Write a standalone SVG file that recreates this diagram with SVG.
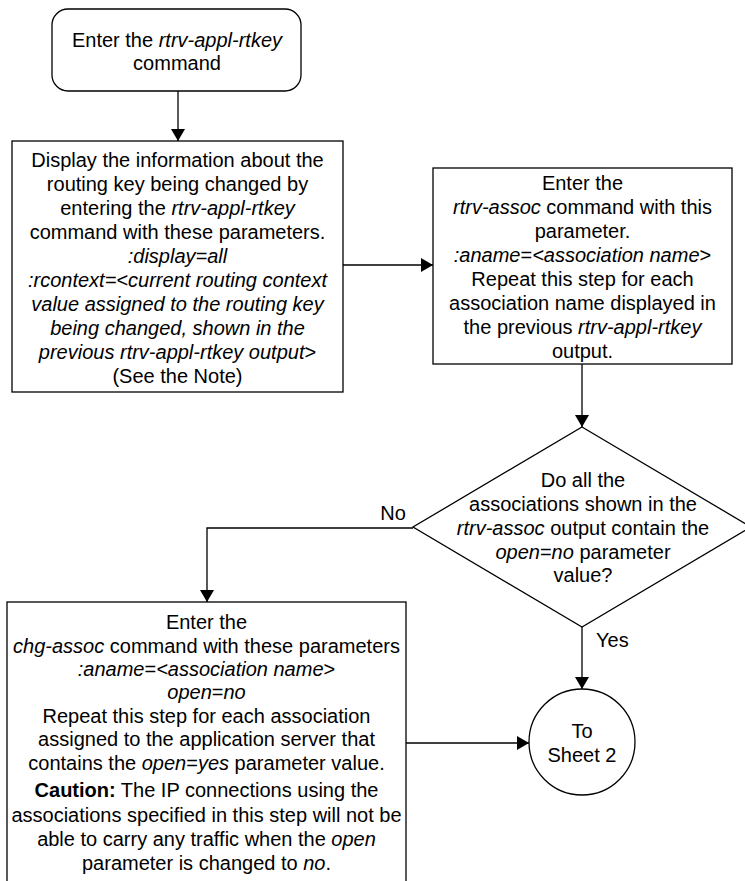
<svg xmlns="http://www.w3.org/2000/svg" width="745" height="881" viewBox="0 0 745 881">
<defs>
<marker id="arr" viewBox="0 0 12 14" refX="12" refY="7" markerWidth="12" markerHeight="14" markerUnits="userSpaceOnUse" orient="auto">
<path d="M0,0 L12,7 L0,14 z" fill="#000"/>
</marker>
<style>
.shape{fill:#fff;stroke:#000;stroke-width:1.3}
.line{fill:none;stroke:#000;stroke-width:1.3;marker-end:url(#arr)}
text{font-family:"Liberation Sans",Arial,sans-serif;font-size:20px;fill:#000;text-anchor:middle}
.i{font-style:italic}
.b{font-weight:bold}
.lbl{font-size:20px}
</style>
</defs>
<rect width="745" height="881" fill="#fff"/>
<g id="connectors">
<path class="line" d="M178,91 L178,141"/>
<path class="line" d="M343,265 L433,265"/>
<path class="line" d="M582,364 L582,427"/>
<path class="line" d="M413,528 L207,528 L207,602"/>
<path class="line" d="M582,627 L582,689"/>
<path class="line" d="M406,743 L529,743"/>
<text class="lbl" x="393" y="520">No</text>
<text class="lbl" x="596" y="647" style="text-anchor:start">Yes</text>
</g>
<g id="start">
<rect class="shape" x="52" y="9" width="249" height="82" rx="16"/>
<text x="177" y="47">Enter the <tspan class="i">rtrv-appl-rtkey</tspan></text>
<text x="177" y="70">command</text>
</g>
<g id="display">
<rect class="shape" x="12" y="141" width="331" height="251"/>
<text x="177.5" y="167">Display the information about the</text>
<text x="177.5" y="191">routing key being changed by</text>
<text x="177.5" y="215">entering the <tspan class="i">rtrv-appl-rtkey</tspan></text>
<text x="177.5" y="239">command with these parameters.</text>
<text x="177.5" y="263" class="i">:display=all</text>
<text x="177.5" y="287" class="i">:rcontext=&lt;current routing context</text>
<text x="177.5" y="311" class="i">value assigned to the routing key</text>
<text x="177.5" y="335" class="i">being changed, shown in the</text>
<text x="177.5" y="359"><tspan class="i">previous rtrv-appl-rtkey output</tspan>&gt;</text>
<text x="177.5" y="383">(See the Note)</text>
</g>
<g id="rtrvassoc">
<rect class="shape" x="433" y="168" width="299" height="196"/>
<text x="582.5" y="190">Enter the</text>
<text x="582.5" y="214"><tspan class="i">rtrv-assoc</tspan> command with this</text>
<text x="582.5" y="238">parameter.</text>
<text x="582.5" y="262"><tspan class="i">:aname</tspan>=<tspan class="i">&lt;association name</tspan>&gt;</text>
<text x="582.5" y="286">Repeat this step for each</text>
<text x="582.5" y="310">association name displayed in</text>
<text x="582.5" y="334">the previous <tspan class="i">rtrv-appl-rtkey</tspan></text>
<text x="582.5" y="358">output.</text>
</g>
<g id="decision">
<polygon class="shape" points="582,427 751,527 582,627 413,527"/>
<text x="583" y="487">Do all the</text>
<text x="583" y="511">associations shown in the</text>
<text x="583" y="535"><tspan class="i">rtrv-assoc</tspan> output contain the</text>
<text x="583" y="559"><tspan class="i">open</tspan>=<tspan class="i">no</tspan> parameter</text>
<text x="583" y="582">value?</text>
</g>
<g id="chgassoc">
<rect class="shape" x="7" y="602" width="399" height="290"/>
<text x="206.5" y="629">Enter the</text>
<text x="206.5" y="653"><tspan class="i">chg-assoc</tspan> command with these parameters</text>
<text x="206.5" y="676"><tspan class="i">:aname</tspan>=<tspan class="i">&lt;association name</tspan>&gt;</text>
<text x="206.5" y="699"><tspan class="i">open</tspan>=<tspan class="i">no</tspan></text>
<text x="206.5" y="723">Repeat this step for each association</text>
<text x="206.5" y="746">assigned to the application server that</text>
<text x="206.5" y="770">contains the <tspan class="i">open</tspan>=<tspan class="i">yes</tspan> parameter value.</text>
<text x="206.5" y="797"><tspan class="b">Caution:</tspan> The IP connections using the</text>
<text x="206.5" y="822">associations specified in this step will not be</text>
<text x="206.5" y="846">able to carry any traffic when the <tspan class="i">open</tspan></text>
<text x="206.5" y="870">parameter is changed to <tspan class="i">no</tspan>.</text>
</g>
<g id="sheet2">
<circle class="shape" cx="582" cy="742" r="53"/>
<text x="582" y="738">To</text>
<text x="582" y="762">Sheet 2</text>
</g>
</svg>
